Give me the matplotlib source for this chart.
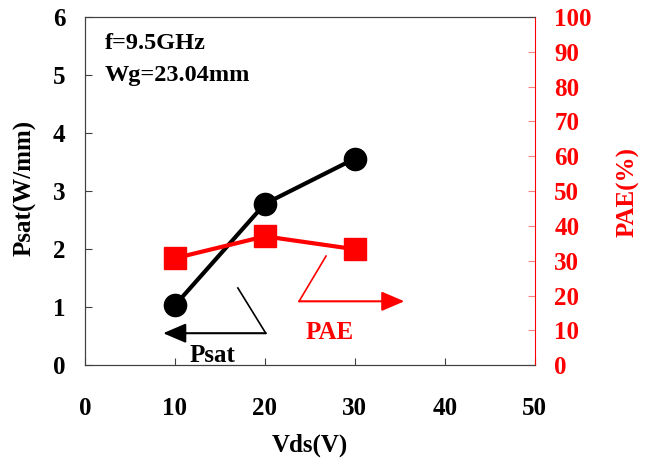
import matplotlib
matplotlib.use('Agg')
from matplotlib import pyplot
import numpy as np

pyplot.rcParams['font.family'] = ['Liberation Serif', 'DejaVu Serif']
pyplot.rcParams['font.weight'] = 'bold'

vds = [10, 20, 30]
psat = [1.03, 2.78, 3.56]
pae = [30.7, 37.0, 33.3]

x_ticks = [0, 10, 20, 30, 40, 50]
psat_ticks = [0, 1, 2, 3, 4, 5, 6]
pae_ticks = [0, 10, 20, 30, 40, 50, 60, 70, 80, 90, 100]

red = '#ff0000'

fig = pyplot.figure(figsize=(6.53, 4.61), dpi=100)
ax = fig.add_axes([0.130, 0.208, 0.689, 0.755])
ax2 = ax.twinx()

ax.plot(vds, psat, color='black', lw=3, marker='o', ms=16, zorder=3)
ax2.plot(vds, pae, color=red, lw=3, marker='s', ms=15.5, zorder=3)

ax.set_xlim(0, 50)
ax.set_ylim(0, 6)
ax2.set_ylim(0, 100)
ax.set_xticks(x_ticks)
ax.set_yticks(psat_ticks)
ax2.set_yticks(pae_ticks)

ax.tick_params(axis='x', direction='in', length=5, pad=23, labelsize=18, color='#404040')
ax.tick_params(axis='y', direction='in', length=5, pad=14, labelsize=18, color='#404040')
ax2.tick_params(axis='y', direction='in', length=5, pad=14, labelsize=18,
                colors=red, color='#ff8080')
for lbl in ax.get_xticklabels() + ax.get_yticklabels() + ax2.get_yticklabels():
	lbl.set_fontweight('bold')

for s in ['left', 'bottom', 'top']:
	ax.spines[s].set_color('#404040')
	ax2.spines[s].set_color('#404040')
ax2.spines['right'].set_color(red)
ax.spines['right'].set_visible(False)

ax.set_xlabel('Vds(V)', fontsize=18, fontweight='bold', va='center')
ax.xaxis.set_label_coords(0.5, -0.23)
ax.set_ylabel('Psat(W/mm)', fontsize=18, fontweight='bold', va='center')
ax.yaxis.set_label_coords(-0.133, 0.509)
ax2.set_ylabel('PAE(%)', fontsize=18, fontweight='bold', color=red, va='center')
ax2.yaxis.set_label_coords(1.207, 0.497)

ax.text(2.2, 5.55, 'f=9.5GHz', fontsize=17.5, fontweight='bold', va='center')
ax.text(2.2, 5.0, 'Wg=23.04mm', fontsize=17.5, fontweight='bold', va='center')

# pointer arrows
arrow_style = '-|>,head_length=1.4,head_width=0.6'
ax.plot([17.0, 20.1], [1.33, 0.55], color='black', lw=1.2)
ax.annotate('', xy=(8.7, 0.55), xytext=(20.1, 0.55),
            arrowprops=dict(arrowstyle=arrow_style, color='black', lw=1.5, shrinkA=0, shrinkB=0))
ax.plot([26.8, 23.8], [1.88, 1.10], color=red, lw=1.2)
ax.annotate('', xy=(35.5, 1.10), xytext=(23.8, 1.10),
            arrowprops=dict(arrowstyle=arrow_style, color=red, lw=1.5, shrinkA=0, shrinkB=0))

ax.text(14.2, 0.16, 'Psat', fontsize=18, fontweight='bold', ha='center', va='center')
ax2.text(27.2, 9.5, 'PAE', fontsize=18, fontweight='bold', ha='center', va='center', color=red)

pyplot.savefig('out.png', dpi=100)
pyplot.close()
